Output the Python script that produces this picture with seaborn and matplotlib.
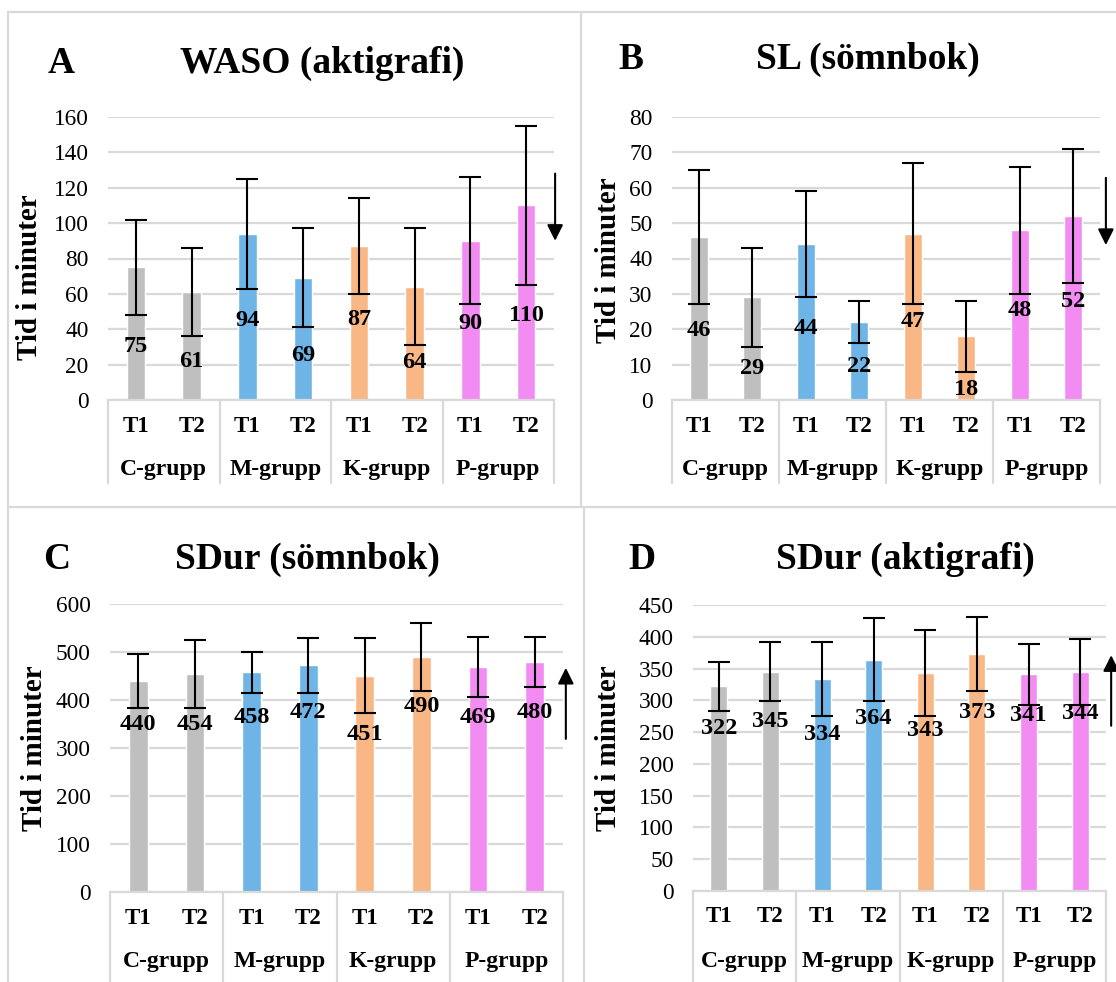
import numpy as np
import pandas as pd
import matplotlib
matplotlib.use("Agg")
import matplotlib.pyplot as plt
import seaborn as sns
from matplotlib.lines import Line2D
from matplotlib.transforms import blended_transform_factory

# ---------------- data ----------------
groups = ["C-grupp", "M-grupp", "K-grupp", "P-grupp"]
times = ["T1", "T2"]
group_colors = ["#BFBFBF", "#6EB4E6", "#F8B784", "#F28CF2"]

a_letter = "A"
a_title = "WASO (aktigrafi)"
a_values = [75, 61, 94, 69, 87, 64, 90, 110]
a_errors = [27, 25, 31, 28, 27, 33, 36, 45]
a_ticks = [0, 20, 40, 60, 80, 100, 120, 140, 160]

b_letter = "B"
b_title = "SL (sömnbok)"
b_values = [46, 29, 44, 22, 47, 18, 48, 52]
b_errors = [19, 14, 15, 6, 20, 10, 18, 19]
b_ticks = [0, 10, 20, 30, 40, 50, 60, 70, 80]

c_letter = "C"
c_title = "SDur (sömnbok)"
c_values = [440, 454, 458, 472, 451, 490, 469, 480]
c_errors = [56, 70, 43, 57, 78, 71, 62, 52]
c_ticks = [0, 100, 200, 300, 400, 500, 600]

d_letter = "D"
d_title = "SDur (aktigrafi)"
d_values = [322, 345, 334, 364, 343, 373, 341, 344]
d_errors = [39, 46, 58, 65, 67, 58, 48, 52]
d_ticks = [0, 50, 100, 150, 200, 250, 300, 350, 400, 450]

y_label = "Tid i minuter"

# label anchor heights (data units) and trend arrows (start, end)
a_label_y = [30, 22, 45, 25, 45.5, 21, 43, 48]
b_label_y = [19.7, 8.8, 20.3, 9.5, 22.3, 3.1, 25.2, 27.8]
c_label_y = [349, 348, 364, 375, 329, 386, 364, 375]
d_label_y = [256, 267, 247, 271, 253, 281, 276, 280]
a_arrow = (128, 90)
b_arrow = (62.8, 43.8)
c_arrow = (319, 467)
d_arrow = (260, 371)

# ---------------- layout ----------------
W, H = 1116, 982
DPI = 100
sns.set_theme(style="white")
plt.rcParams["font.family"] = ["Liberation Serif", "DejaVu Serif"]
plt.rcParams["text.color"] = "black"
plt.rcParams["ytick.color"] = "black"
plt.rcParams["xtick.color"] = "black"

fig = plt.figure(figsize=(W / DPI, H / DPI), dpi=DPI)
fig.patch.set_facecolor("white")

GRID = "#D9D9D9"
FS_TICK = 16.8
FS_LAB = 17.5
FS_CAT = 16.5
FS_GRP = 17


def fx(x):
    return x / W


def fy(y):
    return 1 - y / H


def fig_line(x0, y0, x1, y1):
    fig.add_artist(Line2D([fx(x0), fx(x1)], [fy(y0), fy(y1)], transform=fig.transFigure,
                          color=GRID, lw=1.6))


# panel borders
fig_line(8, 12, W, 12)
fig_line(8, 12, 8, H)
fig_line(8, 507, W, 507)
fig_line(581, 12, 581, 507)
fig_line(584, 507, 584, H)


def draw_panel(box, letter, letter_xy, title, title_xy, ylab_xy, values, errors, label_y,
               ticks, arrow, arrow_x, sep_depth):
    left, right, top, bottom = box
    wpx, hpx = right - left, bottom - top
    ax = fig.add_axes([fx(left), fy(bottom), wpx / W, hpx / H])
    df = pd.DataFrame({
        "cat": [f"{g} {t}" for g in groups for t in times],
        "group": [g for g in groups for _ in times],
        "value": values,
    })
    sns.barplot(data=df, x="cat", y="value", hue="group", palette=group_colors,
                dodge=False, width=0.33, saturation=1, errorbar=None, legend=False,
                ax=ax, zorder=2)
    xs = np.arange(len(values))
    ax.errorbar(xs, values, yerr=errors, fmt="none", ecolor="black", elinewidth=1.5,
                capsize=8, capthick=1.5, zorder=4)
    ax.set_xlim(-0.5, len(values) - 0.5)
    ax.set_ylim(ticks[0], ticks[-1])
    ax.set_yticks(ticks)
    ax.set_yticklabels([str(t) for t in ticks], fontsize=FS_TICK, color="black")
    ax.tick_params(axis="y", length=0, pad=14)
    ax.set_xticks([])
    ax.set_xlabel("")
    ax.set_ylabel("")
    ax.yaxis.grid(True, color=GRID, lw=1.6, zorder=0)
    ax.set_axisbelow(True)
    for s in ["top", "right", "left"]:
        ax.spines[s].set_visible(False)
    ax.spines["bottom"].set_color(GRID)
    ax.spines["bottom"].set_linewidth(1.6)
    ax.patch.set_alpha(0)

    # value labels
    for x, v, ly in zip(xs, values, label_y):
        ax.text(x, ly, f"{v}", ha="center", va="center", fontsize=FS_LAB,
                fontweight="bold", color="black", zorder=5)

    # category table
    trans = blended_transform_factory(ax.transData, ax.transAxes)
    for b in [-0.5, 1.5, 3.5, 5.5, 7.5]:
        ax.add_line(Line2D([b, b], [0, -sep_depth / hpx], transform=trans,
                           color=GRID, lw=1.6, clip_on=False))
    for i, x in enumerate(xs):
        ax.text(x, -26 / hpx, times[i % 2], transform=trans, ha="center", va="center",
                fontsize=FS_CAT, fontweight="bold", color="black", clip_on=False)
    for gi, g in enumerate(groups):
        ax.text(2 * gi + 0.5, -70 / hpx, g, transform=trans, ha="center", va="center",
                fontsize=FS_GRP, fontweight="bold", color="black", clip_on=False)

    # trend arrow
    ax.annotate("", xy=(arrow_x, arrow[1]), xytext=(arrow_x, arrow[0]),
                arrowprops=dict(arrowstyle="-|>", color="black", lw=1.5,
                                mutation_scale=24, shrinkA=0, shrinkB=0),
                annotation_clip=False)

    # titles and y label
    fig.text(fx(letter_xy[0]), fy(letter_xy[1]), letter, ha="center", va="baseline",
             fontsize=27, fontweight="bold", color="black")
    fig.text(fx(title_xy[0]), fy(title_xy[1]), title, ha="center", va="baseline",
             fontsize=27, fontweight="bold", color="black")
    fig.text(fx(ylab_xy[0]), fy(ylab_xy[1]), y_label, rotation=90, ha="center",
             va="center", fontsize=21, fontweight="bold", color="black")
    return ax


draw_panel((108, 554, 117, 400), a_letter, (61.5, 73), a_title, (322, 73), (30, 277),
           a_values, a_errors, a_label_y, a_ticks, a_arrow, 7.52, 83)
draw_panel((672, 1100, 117, 400), b_letter, (631, 69), b_title, (868, 69), (608, 260),
           b_values, b_errors, b_label_y, b_ticks, b_arrow, 7.61, 83)
draw_panel((110, 563, 604, 892), c_letter, (57, 569), c_title, (307, 569), (35, 748),
           c_values, c_errors, c_label_y, c_ticks, c_arrow, 7.55, 100)
draw_panel((693, 1106, 605, 891), d_letter, (642, 569), d_title, (905, 569), (609, 748),
           d_values, d_errors, d_label_y, d_ticks, d_arrow, 7.6, 100)

fig.savefig("out.png", dpi=DPI)
